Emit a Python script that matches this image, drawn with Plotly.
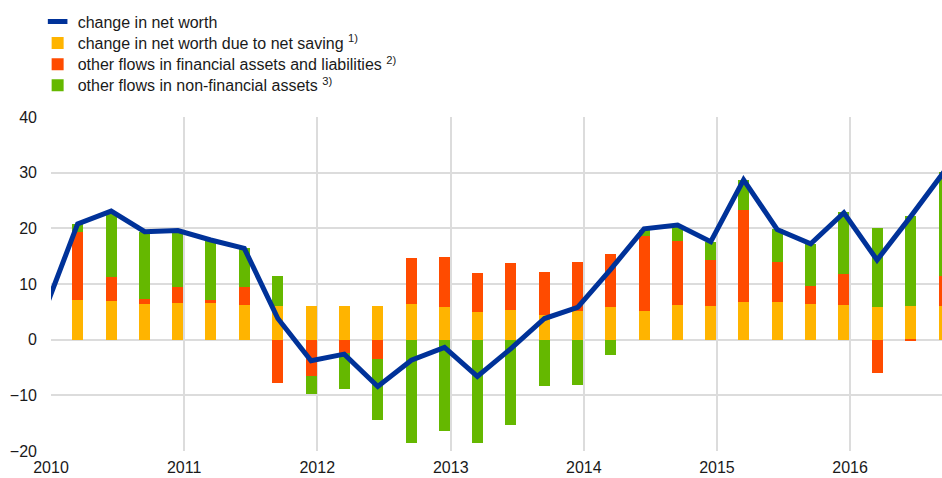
import pandas as pd
import plotly.graph_objects as go

# quarterly data, 2010Q1 - 2016Q3 (percentages / contributions)
quarters = pd.period_range("2010Q1", "2016Q3", freq="Q")
# plotted at mid of the quarter's last month
dates = [pd.Timestamp(q.end_time.year, q.end_time.month, 15) for q in quarters]

net_saving = [7.1, 7.0, 6.4, 6.6, 6.6, 6.2, 6.1, 6.0, 6.1, 6.1, 6.4, 5.9, 4.9, 5.3,
              4.4, 5.2, 5.8, 5.2, 6.2, 6.0, 6.7, 6.8, 6.4, 6.2, 5.8, 6.1, 6.1]
fin_flows = [12.3, 4.2, 0.9, 2.8, 0.5, 3.2, -7.8, -6.5, -2.4, -3.4, 8.2, 9.0, 7.0, 8.4,
             7.7, 8.7, 9.6, 13.5, 11.5, 8.3, 16.6, 7.2, 3.3, 5.6, -5.9, -0.3, 5.4]
nonfin_flows = [1.4, 11.7, 12.1, 10.1, 10.6, 7.0, 5.4, -3.3, -6.4, -11.0, -18.5, -16.4, -18.6, -15.3,
                -8.4, -8.1, -2.8, 1.0, 2.9, 3.3, 5.3, 5.8, 7.5, 11.1, 14.3, 16.2, 18.7]
net_worth = [20.8, 23.1, 19.4, 19.6, 17.9, 16.4, 3.8, -3.8, -2.6, -8.4, -3.7, -1.4, -6.6, -1.6,
             3.8, 5.8, 12.6, 19.9, 20.6, 17.6, 28.7, 19.8, 17.2, 22.8, 14.3, 22.1, 30.2]
# previous quarter (2009Q4), only seen as the start of the line
prev_date = pd.Timestamp(2009, 12, 15)
prev_net_worth = 5.3

names = ["change in net worth",
         "change in net worth due to net saving <sup>1)</sup>",
         "other flows in financial assets and liabilities <sup>2)</sup>",
         "other flows in non-financial assets <sup>3)</sup>"]
colors = ["#003299", "#FFB400", "#FF4B00", "#65B800"]
legend_ids = ["legend", "legend2", "legend3", "legend4"]

W, H = 942, 478
M_L, M_T, M_B = 51, 117, 27
plot_h = H - M_T - M_B
row_px = [21.5, 43, 64.3, 85.3]  # legend row centres, px from top

bar_w = 30 * 24 * 3600 * 1000  # ~ one month, in ms

fig = go.Figure()
# legend entry for the line (short thick dash like the original)
fig.add_trace(go.Scatter(x=[None], y=[None], mode="markers", name=names[0],
                         legend=legend_ids[0],
                         marker=dict(symbol="line-ew", size=14,
                                     line=dict(color=colors[0], width=6))))
for vals, nm, col, lg in zip([net_saving, fin_flows, nonfin_flows], names[1:],
                             colors[1:], legend_ids[1:]):
    fig.add_trace(go.Bar(x=dates, y=vals, name=nm, width=bar_w, legend=lg,
                         marker=dict(color=col, line=dict(width=0))))
fig.add_trace(go.Scatter(x=[prev_date] + dates, y=[prev_net_worth] + net_worth,
                         mode="lines", line=dict(color=colors[0], width=5),
                         showlegend=False))

legends = {}
for lg, yc in zip(legend_ids, row_px):
    legends[lg] = dict(x=-0.015, xanchor="left", y=1 + (M_T - yc) / plot_h,
                       yanchor="middle", font=dict(size=16, color="#1a1a1a"),
                       bgcolor="rgba(0,0,0,0)", itemclick=False, itemdoubleclick=False)

fig.update_layout(
    width=W, height=H,
    margin=dict(l=M_L, r=0, t=M_T, b=M_B),
    barmode="relative",
    bargap=0,
    plot_bgcolor="white", paper_bgcolor="white",
    font=dict(family="Arial, Liberation Sans, sans-serif", size=16, color="#1a1a1a"),
    **legends,
)
fig.update_xaxes(type="date", range=["2010-01-01", "2016-09-09"], dtick="M12",
                 tick0="2010-01-01", tickformat="%Y", showgrid=True,
                 gridcolor="#dcdcdc", gridwidth=1.5, zeroline=False,
                 showline=False, ticks="", ticklabelstandoff=5)
fig.update_yaxes(range=[-20, 40], dtick=10, showgrid=True, gridcolor="#dcdcdc",
                 gridwidth=1.5, zeroline=True, zerolinecolor="#dcdcdc",
                 zerolinewidth=1.5, ticks="", ticklabelstandoff=13)

fig.write_html("out.html", config={"displayModeBar": False})

# drop the browser's default 8px body margin so the figure sits at the page corner
with open("out.html", encoding="utf-8") as f:
    html = f.read()
html = html.replace("<head>", "<head><style>body{margin:0;overflow:hidden}</style>", 1)
with open("out.html", "w", encoding="utf-8") as f:
    f.write(html)
